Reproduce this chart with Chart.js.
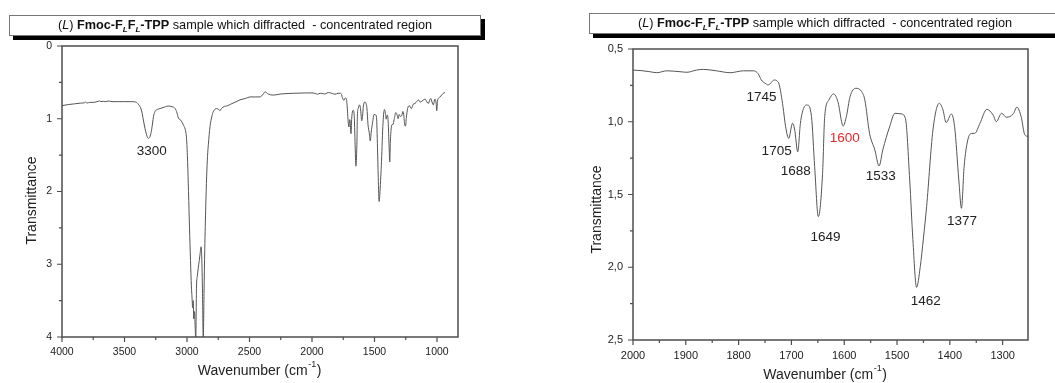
<!DOCTYPE html>
<html>
<head>
<meta charset="utf-8">
<script src="https://cdn.jsdelivr.net/npm/chart.js@4.4.1/dist/chart.umd.min.js"></script>
<style>
  body { margin: 0; background: #fff; width: 1055px; height: 383px; overflow: hidden; position: relative; font-family: "Liberation Sans", Arial, sans-serif; }
  canvas { position: absolute; top: 0; }
  .title-box { position: absolute; height: 19px; width: 470px; border: 1px solid #777; background: #fff; box-shadow: 4px 4px 0 #000; font-size: 12.7px; line-height: 19px; text-align: center; color: #111; z-index: 2; white-space: nowrap; }
  .title-box sub { font-size: 8px; font-style: italic; vertical-align: -3px; line-height: 0; }
</style>
</head>
<body>
<div class="title-box" style="left:9px; top:15px;">(<i>L</i>) <b>Fmoc-F<sub>L</sub>F<sub>L</sub>-TPP</b> sample which diffracted&nbsp; - concentrated region</div>
<div class="title-box" style="left:589px; top:13px;">(<i>L</i>) <b>Fmoc-F<sub>L</sub>F<sub>L</sub>-TPP</b> sample which diffracted&nbsp; - concentrated region</div>
<canvas id="leftChart" width="527" height="383" style="left:0"></canvas>
<canvas id="rightChart" width="528" height="383" style="left:527px"></canvas>
<script>
'use strict';

// IR spectrum, wavenumber (cm-1) and transmittance
const spectrumWn = [
    4000, 3950, 3900, 3850, 3820, 3810, 3800, 3780, 3750, 3720, 3700, 3690, 3670, 3650, 3630, 3600, 3550, 3500, 3450, 3410,
    3390, 3365, 3340, 3320, 3308, 3295, 3283, 3268, 3256, 3235, 3216, 3180, 3150, 3120, 3096, 3080, 3069, 3050, 3029, 3010,
    3003, 2995, 2988, 2980, 2972, 2965, 2960, 2955, 2950, 2946, 2940, 2935, 2930, 2924, 2918, 2910, 2902, 2895, 2888, 2882,
    2876, 2870, 2864, 2858, 2850, 2843, 2836, 2829, 2816, 2800, 2789, 2763, 2745, 2736, 2725, 2700, 2683, 2650, 2600, 2576,
    2530, 2496, 2450, 2416, 2390, 2376, 2350, 2309, 2250, 2150, 2050, 2000, 1970, 1955, 1936, 1911, 1898, 1880, 1867, 1842,
    1816, 1791, 1772, 1763, 1757, 1750, 1744, 1738, 1733, 1727, 1723, 1716, 1711, 1705, 1698, 1694, 1688, 1683, 1677, 1670,
    1662, 1656, 1649, 1641, 1637, 1629, 1620, 1612, 1602, 1596, 1589, 1578, 1567, 1561, 1552, 1542, 1534, 1527, 1514, 1504,
    1492, 1484, 1476, 1470, 1463, 1456, 1450, 1444, 1432, 1420, 1413, 1407, 1397, 1391, 1383, 1378, 1373, 1366, 1359, 1353,
    1343, 1330, 1318, 1312, 1302, 1293, 1280, 1273, 1265, 1258, 1252, 1245, 1235, 1222, 1205, 1190, 1176, 1160, 1149, 1135,
    1122, 1108, 1096, 1080, 1069, 1058, 1050, 1040, 1029, 1020, 1016, 1006, 1002, 996, 989, 975, 962, 950, 936
];
const spectrumT = [
    0.82, 0.805, 0.795, 0.785, 0.78, 0.77, 0.785, 0.775, 0.775, 0.765, 0.755, 0.765, 0.76, 0.765, 0.755, 0.765, 0.765, 0.765, 0.765, 0.77,
    0.80, 0.88, 1.10, 1.24, 1.27, 1.24, 1.15, 0.97, 0.90, 0.87, 0.86, 0.84, 0.825, 0.835, 0.857, 0.92, 0.99, 1.02, 1.086, 1.18,
    1.29, 1.60, 2.00, 2.50, 2.95, 3.30, 3.45, 3.60, 3.50, 3.75, 3.65, 3.85, 4.05, 3.30, 3.17, 3.05, 2.95, 2.85, 2.76, 2.90,
    3.40, 4.05, 3.40, 2.80, 2.20, 1.80, 1.52, 1.35, 1.11, 0.96, 0.90, 0.86, 0.875, 0.89, 0.86, 0.83, 0.825, 0.80, 0.76, 0.74,
    0.72, 0.70, 0.70, 0.70, 0.66, 0.63, 0.66, 0.675, 0.66, 0.65, 0.645, 0.645, 0.655, 0.663, 0.65, 0.656, 0.66, 0.645, 0.64, 0.65,
    0.663, 0.65, 0.65, 0.67, 0.713, 0.735, 0.747, 0.73, 0.713, 0.72, 0.747, 0.896, 1.034, 1.114, 1.011, 1.05, 1.206, 1.011, 0.908, 0.885,
    0.965, 1.309, 1.652, 1.354, 0.965, 0.85, 0.809, 0.862, 1.029, 0.965, 0.828, 0.77, 0.793, 0.85, 1.08, 1.194, 1.304, 1.194, 1.034, 0.942,
    0.946, 0.98, 1.40, 1.81, 2.138, 1.996, 1.80, 1.584, 1.057, 0.873, 0.919, 1.006, 0.947, 1.034, 1.40, 1.595, 1.309, 1.125, 1.08, 1.08,
    1.011, 0.915, 0.954, 0.999, 0.942, 0.969, 0.947, 0.90, 0.965, 1.09, 1.10, 0.98, 0.86, 0.82, 0.86, 0.80, 0.79, 0.76, 0.74, 0.77,
    0.76, 0.74, 0.73, 0.77, 0.79, 0.74, 0.72, 0.77, 0.81, 0.74, 0.73, 0.80, 0.89, 0.76, 0.72, 0.70, 0.673, 0.65, 0.64
];

// tick labels
const leftXTicks = [4000, 3500, 3000, 2500, 2000, 1500, 1000];
const leftYTicks = [0, 1, 2, 3, 4];
const rightXTicks = [2000, 1900, 1800, 1700, 1600, 1500, 1400, 1300];
const rightYTicks = [0.5, 1.0, 1.5, 2.0, 2.5];

// peak annotations (text, placed at wavenumber / transmittance)
const leftPeakText = ['3300'];
const leftPeakWn = [3282];
const leftPeakT = [1.443];
const rightPeakText = ['1745', '1705', '1688', '1600', '1649', '1533', '1462', '1377'];
const rightPeakWn = [1756.5, 1728, 1692, 1599, 1635.5, 1531, 1445.7, 1377];
const rightPeakT = [0.832, 1.201, 1.343, 1.114, 1.797, 1.373, 2.237, 1.687];
const highlightedPeak = '1600';

const FONT = '"Liberation Sans", Arial, sans-serif';
const INK = '#222';
const FRAME = '#4d4d4d';

function minorValues(majors, min, max)
{
    const out = [];
    for (let i = 0; i < majors.length - 1; i++) {
        out.push((majors[i] + majors[i + 1]) / 2);
    }
    const step = majors[1] - majors[0];
    const before = majors[0] - step / 2, after = majors[majors.length - 1] + step / 2;
    [before, after].forEach(v => { if (v >= min && v <= max) out.push(v); });
    return out;
}

// frame, tick marks, axis titles and peak labels
const decorPlugin = {
    id: 'decor',
    afterDatasetsDraw(chart, args, opts) {
        const { ctx, chartArea: a, scales: { x, y } } = chart;
        ctx.save();
        ctx.strokeStyle = FRAME;
        ctx.lineWidth = 1.5;
        ctx.strokeRect(a.left, a.top, a.right - a.left, a.bottom - a.top);

        ctx.lineWidth = 1.2;
        ctx.beginPath();
        opts.xMajor.forEach(v => { const px = x.getPixelForValue(v); ctx.moveTo(px, a.bottom); ctx.lineTo(px, a.bottom + 5); });
        minorValues(opts.xMajor, x.min, x.max).forEach(v => { const px = x.getPixelForValue(v); ctx.moveTo(px, a.bottom); ctx.lineTo(px, a.bottom + 3); });
        opts.yMajor.forEach(v => { const py = y.getPixelForValue(v); ctx.moveTo(a.left, py); ctx.lineTo(a.left - 5, py); });
        minorValues(opts.yMajor, y.min, y.max).forEach(v => { const py = y.getPixelForValue(v); ctx.moveTo(a.left, py); ctx.lineTo(a.left - 3, py); });
        ctx.stroke();

        // x title with superscript
        ctx.fillStyle = INK;
        ctx.textBaseline = 'middle';
        ctx.textAlign = 'left';
        const main = 'Wavenumber (cm', sup = '-1', end = ')';
        ctx.font = `14px ${FONT}`;
        const wMain = ctx.measureText(main).width, wEnd = ctx.measureText(end).width;
        ctx.font = `9px ${FONT}`;
        const wSup = ctx.measureText(sup).width;
        let tx = (a.left + a.right) / 2 + opts.xTitleDx - (wMain + wSup + wEnd) / 2;
        const ty = a.bottom + opts.xTitleDy;
        ctx.font = `14px ${FONT}`;
        ctx.fillText(main, tx, ty);
        ctx.font = `9px ${FONT}`;
        ctx.fillText(sup, tx + wMain + 0.5, ty - 6);
        ctx.font = `14px ${FONT}`;
        ctx.fillText(end, tx + wMain + wSup + 1, ty);

        // y title
        ctx.save();
        ctx.translate(a.left + opts.yTitleDx, (a.top + a.bottom) / 2 + opts.yTitleDy);
        ctx.rotate(-Math.PI / 2);
        ctx.textAlign = 'center';
        ctx.fillText('Transmittance', 0, 0);
        ctx.restore();

        // peak labels
        ctx.font = `13.5px ${FONT}`;
        ctx.textAlign = 'center';
        opts.peakText.forEach((t, i) => {
            ctx.fillStyle = t === highlightedPeak ? '#e8262c' : INK;
            ctx.fillText(t, x.getPixelForValue(opts.peakWn[i]), y.getPixelForValue(opts.peakT[i]));
        });
        ctx.restore();
    }
};

function makeChart(id, cfg)
{
    return new Chart(document.getElementById(id), {
        type: 'line',
        data: {
            datasets: [{
                data: spectrumWn.map((w, i) => ({ x: w, y: spectrumT[i] })),
                borderColor: '#555',
                borderWidth: 1,
                pointRadius: 0,
                cubicInterpolationMode: 'monotone'
            }]
        },
        options: {
            responsive: false,
            animation: false,
            devicePixelRatio: 1,
            layout: { padding: { top: cfg.top, right: cfg.right, left: 0, bottom: 0 } },
            plugins: {
                legend: { display: false },
                tooltip: { enabled: false },
                decor: {
                    xMajor: cfg.xTicks, yMajor: cfg.yTicks,
                    xTitleDx: cfg.xTitleDx, xTitleDy: cfg.xTitleDy,
                    yTitleDx: cfg.yTitleDx, yTitleDy: cfg.yTitleDy,
                    peakText: cfg.peakText, peakWn: cfg.peakWn, peakT: cfg.peakT
                }
            },
            scales: {
                x: {
                    type: 'linear', reverse: true, min: cfg.xMin, max: cfg.xMax,
                    afterBuildTicks: s => { s.ticks = cfg.xTicks.map(v => ({ value: v })); },
                    afterFit: s => { s.height = cfg.xHeight; },
                    grid: { display: false, drawTicks: false },
                    border: { display: false },
                    ticks: { padding: cfg.xPad, color: INK, font: { family: FONT, size: cfg.tickSize }, maxRotation: 0, autoSkip: false, callback: v => String(v) }
                },
                y: {
                    type: 'linear', reverse: true, min: cfg.yMin, max: cfg.yMax,
                    afterBuildTicks: s => { s.ticks = cfg.yTicks.map(v => ({ value: v })); },
                    afterFit: s => { s.width = cfg.yWidth; },
                    grid: { display: false, drawTicks: false },
                    border: { display: false },
                    ticks: { padding: cfg.yPad, color: INK, font: { family: FONT, size: cfg.tickSize }, callback: cfg.yFormat }
                }
            }
        },
        plugins: [decorPlugin]
    });
}

makeChart('leftChart', {
    top: 46, right: 69, xHeight: 46, yWidth: 62,
    xMin: 832, xMax: 4000, yMin: 0, yMax: 4,
    xTicks: leftXTicks, yTicks: leftYTicks, tickSize: 10.5, xPad: 9, yPad: 10,
    yFormat: v => String(v),
    xTitleDx: -1, xTitleDy: 34, yTitleDx: -30, yTitleDy: 9,
    peakText: leftPeakText, peakWn: leftPeakWn, peakT: leftPeakT
});

makeChart('rightChart', {
    top: 49, right: 27, xHeight: 43, yWidth: 106,
    xMin: 1252, xMax: 2000, yMin: 0.5, yMax: 2.5,
    xTicks: rightXTicks, yTicks: rightYTicks, tickSize: 11, xPad: 9, yPad: 10,
    yFormat: v => v.toFixed(1).replace('.', ','),
    xTitleDx: -6, xTitleDy: 35, yTitleDx: -36, yTitleDy: 15,
    peakText: rightPeakText, peakWn: rightPeakWn, peakT: rightPeakT
});
</script>
</body>
</html>
